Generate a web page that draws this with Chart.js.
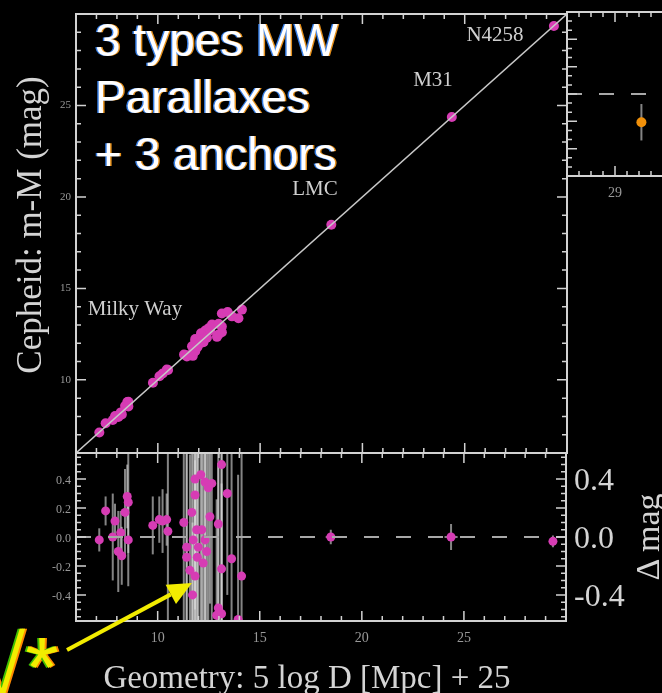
<!DOCTYPE html>
<html>
<head>
<meta charset="utf-8">
<script src="https://cdn.jsdelivr.net/npm/chart.js@4.4.1/dist/chart.umd.min.js"></script>
<style>
  html, body { margin: 0; padding: 0; background: #000; }
  body { width: 662px; height: 693px; overflow: hidden; position: relative; }
  canvas { position: absolute; }
  #top { left: 0; top: 0; }
  #inset { left: 560px; top: 0; }
  #bottom { left: 0; top: 440px; }
  .txt { position: absolute; white-space: nowrap; }
  #note { left: 95px; top: 12px; font: 46px/57px "Liberation Sans", Arial, sans-serif; color: #fff;
          text-shadow: -1.5px 0 rgba(60,140,255,0.9), 1.5px 0 rgba(255,160,30,0.9); }
  #vstar { left: -22px; top: 624px; font: 86px/86px "Liberation Sans", Arial, sans-serif; color: #f2ec00;
           text-shadow: -2px 0 #3fbf00, 2px 0 #ff8a00; }
  .serif { font-family: "Liberation Serif", "Times New Roman", serif; color: #d4d4d4; text-align: center; }
  #ytitle { left: -170px; top: 205px; width: 400px; font-size: 35px; line-height: 40px; transform: rotate(-90deg); }
  #xtitle { left: 57px; top: 657px; width: 500px; font-size: 33px; line-height: 40px; }
  #rtitle { left: 588px; top: 517px; width: 120px; font-size: 34px; line-height: 40px; transform: rotate(-90deg); }
</style>
</head>
<body>
<canvas id="top" width="580" height="460"></canvas>
<canvas id="inset" width="140" height="205"></canvas>
<canvas id="bottom" width="662" height="253"></canvas>
<div id="note" class="txt">3 types MW<br>Parallaxes<br>+ 3 anchors</div>
<div id="vstar" class="txt">√*</div>
<div id="ytitle" class="txt serif">Cepheid: m-M (mag)</div>
<div id="xtitle" class="txt serif">Geometry: 5 log D [Mpc] + 25</div>
<div id="rtitle" class="txt serif">Δ mag</div>
<script>
// Milky Way Cepheids: geometric distance modulus and residual (Cepheid - geometry)
const mwGeo = [7.14, 7.45, 7.80, 7.91, 8.07, 8.19, 8.24, 8.40, 8.51, 8.56, 8.56,
  9.76, 10.08, 10.24, 10.44, 10.50,
  11.28, 11.42, 11.42, 11.58, 11.67, 11.71, 11.74, 11.83, 11.83, 11.83, 11.91, 11.94,
  11.99, 12.11, 12.16, 12.23, 12.32, 12.32, 12.40, 12.48, 12.56, 12.65, 12.89, 12.97,
  12.97, 13.13, 13.13, 13.13, 13.41, 13.62, 13.94, 14.11];
const mwDelta = [-0.02, 0.18, 0.00, 0.11, -0.10, 0.03, -0.13, 0.17, 0.28, 0.24, -0.02,
  0.08, 0.12, 0.11, 0.12, 0.04,
  0.10, -0.07, -0.14, -0.23, 0.17, -0.40, -0.02, 0.40, 0.29, -0.27, 0.05, -0.14,
  -0.07, 0.43, 0.05, -0.18, 0.38, -0.02, -0.10, 0.34, 0.14, 0.37, -0.54, 0.09,
  -0.49, 0.50, -0.22, -0.53, 0.30, -0.15, -0.57, -0.27];
const mwErr = [0.08, 0.10, 0.30, 0.12, 0.28, 0.15, 0.20, 0.30, 0.22, 0.35, 0.32,
  0.20, 0.16, 0.22, 0.18, 0.90,
  0.90, 0.70, 1.00, 0.80, 1.20, 0.50, 1.10, 0.90, 1.30, 0.80, 1.00, 1.20,
  0.90, 1.10, 0.80, 1.00, 1.20, 0.70, 0.90, 1.00, 0.60, 1.10, 0.80, 0.90,
  1.00, 1.20, 0.80, 0.90, 0.70, 0.90, 1.00, 0.90];

// anchors outside the Milky Way
const anchorNames = ["LMC", "M31", "N4258"];
const anchorGeo = [18.48, 24.37, 29.36];
const anchorCeph = [18.48, 24.37, 29.34];
const anchorDelta = [0.00, 0.00, -0.03];
const anchorErrY = [0.05, 0.09, 0.04];
const anchorErrX = [0.25, 0.32, 0.10];

// right-hand inset (cut off by the frame)
const insetX = [29.22];
const insetDelta = [-0.155];
const insetErr = [0.10];

// axes
const diagX = [6, 30];
const topYTicks = [10, 15, 20, 25];
const bottomXTicks = [10, 15, 20, 25];
const bottomYTicks = [-0.4, -0.2, 0.0, 0.2, 0.4];
const rightYTicks = [-0.4, 0.0, 0.4];
const insetXTicks = [29];

const MAGENTA = "#d63cb4";
const SERIF = "'Liberation Serif', 'Times New Roman', serif";
const FRAME = "#d2d2d2";

// minor / major step of the inward tick marks, per canvas
const tickSteps = {
  top: { x: [1, 5], y: [1, 5] },
  bottom: { x: [1, 5], y: [0.05, 0.2] },
  inset: { x: [0.1, 0.5], y: [0.05, 0.15] }
};

// box with inward tick marks on all four sides
const framePlugin = {
  id: "frame",
  afterDatasetsDraw(chart) {
    const { ctx, chartArea: a, scales } = chart;
    const steps = tickSteps[chart.canvas.id];
    ctx.save();
    ctx.strokeStyle = FRAME;
    ctx.lineWidth = 1.5;
    const marks = (scale, minor, major, horiz) => {
      const n0 = Math.ceil(scale.min / minor - 1e-6);
      const n1 = Math.floor(scale.max / minor + 1e-6);
      for (let n = n0; n <= n1; n++) {
        const v = n * minor;
        const r = v / major;
        const len = Math.abs(r - Math.round(r)) < 1e-6 ? 10 : 5;
        const p = scale.getPixelForValue(v);
        ctx.beginPath();
        if (horiz) {
          ctx.moveTo(p, a.bottom); ctx.lineTo(p, a.bottom - len);
          ctx.moveTo(p, a.top); ctx.lineTo(p, a.top + len);
        } else {
          ctx.moveTo(a.left, p); ctx.lineTo(a.left + len, p);
          ctx.moveTo(a.right, p); ctx.lineTo(a.right - len, p);
        }
        ctx.stroke();
      }
    };
    marks(scales.x, steps.x[0], steps.x[1], true);
    marks(scales.y, steps.y[0], steps.y[1], false);
    ctx.lineWidth = 2;
    ctx.strokeRect(a.left, a.top, a.width, a.height);
    ctx.restore();
  }
};

// vertical / horizontal error bars from dataset.errY / dataset.errX
const errorPlugin = {
  id: "errorBars",
  beforeDatasetsDraw(chart) {
    const { ctx, chartArea: a, scales: { x, y } } = chart;
    ctx.save();
    ctx.beginPath();
    ctx.rect(a.left, a.top, a.width, a.height);
    ctx.clip();
    ctx.strokeStyle = "rgba(220,220,220,0.6)";
    ctx.lineWidth = 2;
    chart.data.datasets.forEach((ds) => {
      if (!ds.errY) return;
      ds.data.forEach((p, i) => {
        const px = x.getPixelForValue(p.x);
        const py = y.getPixelForValue(p.y);
        const ey = ds.errY[i] || 0;
        const ex = ds.errX ? ds.errX[i] || 0 : 0;
        ctx.beginPath();
        if (ey) { ctx.moveTo(px, y.getPixelForValue(p.y - ey)); ctx.lineTo(px, y.getPixelForValue(p.y + ey)); }
        if (ex) { ctx.moveTo(x.getPixelForValue(p.x - ex), py); ctx.lineTo(x.getPixelForValue(p.x + ex), py); }
        ctx.stroke();
      });
    });
    ctx.restore();
  }
};

// galaxy names placed in data coordinates
const nameSpots = [
  { text: anchorNames[2], x: 26.48, y: 28.85 },
  { text: anchorNames[1], x: 23.45, y: 26.39 },
  { text: anchorNames[0], x: 17.68, y: 20.38 },
  { text: "Milky Way", x: 8.88, y: 13.82 }
];
const namePlugin = {
  id: "names",
  afterDatasetsDraw(chart) {
    const { ctx, scales: { x, y } } = chart;
    ctx.save();
    ctx.font = "21px " + SERIF;
    ctx.fillStyle = "#cfcfcf";
    ctx.textAlign = "center";
    ctx.textBaseline = "middle";
    nameSpots.forEach((it) => ctx.fillText(it.text, x.getPixelForValue(it.x), y.getPixelForValue(it.y)));
    ctx.restore();
  }
};

// yellow arrow pointing at the MW cluster (data coords of the residual panel)
const arrowFrom = [5.56, -0.78];
const arrowTo = [11.68, -0.318];
const arrowPlugin = {
  id: "arrow",
  afterDraw(chart) {
    const { ctx, scales: { x, y } } = chart;
    const x0 = x.getPixelForValue(arrowFrom[0]), y0 = y.getPixelForValue(arrowFrom[1]);
    const x1 = x.getPixelForValue(arrowTo[0]), y1 = y.getPixelForValue(arrowTo[1]);
    const ang = Math.atan2(y1 - y0, x1 - x0);
    const c = Math.cos(ang), s = Math.sin(ang);
    const bx = x1 - 24 * c, by = y1 - 24 * s;
    ctx.save();
    ctx.strokeStyle = ctx.fillStyle = "#f2ec00";
    ctx.lineWidth = 4;
    ctx.beginPath(); ctx.moveTo(x0, y0); ctx.lineTo(bx, by); ctx.stroke();
    ctx.beginPath();
    ctx.moveTo(x1, y1);
    ctx.lineTo(bx + 11 * s, by - 11 * c);
    ctx.lineTo(bx - 11 * s, by + 11 * c);
    ctx.closePath();
    ctx.fill();
    ctx.restore();
  }
};

const pts = (xs, ys) => xs.map((v, i) => ({ x: v, y: ys[i] }));
const tickList = (arr) => (s) => { s.ticks = arr.map((v) => ({ value: v })); };
const dot = (r, color) => ({ pointRadius: r, pointHoverRadius: r, backgroundColor: color, borderColor: color, pointBorderWidth: 0 });
// fixed axis sizes, and no extra room for half-labels at the ends
const fixW = (w) => (s) => { s.width = w; s.paddingTop = 0; s.paddingBottom = 0; };
const fixH = (h) => (s) => { s.height = h; s.paddingLeft = 0; s.paddingRight = 0; };

// ---- top panel: Cepheid m-M vs geometry ----
new Chart(document.getElementById("top"), {
  type: "scatter",
  data: {
    datasets: [
      { data: pts(diagX, diagX), showLine: true, borderColor: "#c8c8c8", borderWidth: 1.5, pointRadius: 0 },
      { data: pts(mwGeo, mwGeo.map((g, i) => g + mwDelta[i])), ...dot(5, MAGENTA) },
      { data: pts(anchorGeo, anchorCeph), ...dot(5, MAGENTA) }
    ]
  },
  options: {
    responsive: false,
    animation: false,
    layout: { padding: { top: 14, right: 13, bottom: 7, left: 0 } },
    plugins: { legend: { display: false }, tooltip: { enabled: false } },
    scales: {
      x: { type: "linear", display: false, min: 6, max: 30 },
      y: {
        type: "linear", min: 6, max: 30,
        grid: { display: false, drawTicks: false },
        border: { display: false },
        afterBuildTicks: tickList(topYTicks),
        afterFit: fixW(76),
        ticks: { color: "#999", font: { family: SERIF, size: 11 }, padding: 5 }
      }
    }
  },
  plugins: [errorPlugin, framePlugin, namePlugin]
});

// ---- inset panel on the right ----
new Chart(document.getElementById("inset"), {
  type: "scatter",
  data: {
    datasets: [
      { data: pts([28.6, 29.6], [0, 0]), showLine: true, borderColor: "#a8a8a8", borderWidth: 2, borderDash: [15, 17], pointRadius: 0 },
      { data: pts(insetX, insetDelta), errY: insetErr, ...dot(5, "#f0900a") }
    ]
  },
  options: {
    responsive: false,
    animation: false,
    layout: { padding: { top: 12, right: 13, left: 7, bottom: 0 } },
    plugins: { legend: { display: false }, tooltip: { enabled: false } },
    scales: {
      x: {
        type: "linear", min: 28.6, max: 29.6,
        grid: { display: false, drawTicks: false },
        border: { display: false },
        afterBuildTicks: tickList(insetXTicks),
        afterFit: fixH(29),
        ticks: { color: "#999", font: { family: SERIF, size: 14 }, padding: 9, maxRotation: 0 }
      },
      y: { type: "linear", display: false, min: -0.45, max: 0.45 }
    }
  },
  plugins: [errorPlugin, framePlugin]
});

// ---- bottom panel: residuals ----
new Chart(document.getElementById("bottom"), {
  type: "scatter",
  data: {
    datasets: [
      { data: pts(diagX, [0, 0]), showLine: true, borderColor: "#a8a8a8", borderWidth: 2, borderDash: [15, 17], pointRadius: 0 },
      { data: pts(mwGeo, mwDelta), errY: mwErr, ...dot(4.5, MAGENTA) },
      { data: pts(anchorGeo, anchorDelta), errY: anchorErrY, errX: anchorErrX, ...dot(4.5, MAGENTA) }
    ]
  },
  options: {
    responsive: false,
    animation: false,
    layout: { padding: { top: 13, right: 0, left: 0, bottom: 0 } },
    plugins: { legend: { display: false }, tooltip: { enabled: false } },
    scales: {
      x: {
        type: "linear", min: 6, max: 30,
        grid: { display: false, drawTicks: false },
        border: { display: false },
        afterBuildTicks: tickList(bottomXTicks),
        afterFit: fixH(72),
        ticks: { color: "#999", font: { family: SERIF, size: 14 }, padding: 9, maxRotation: 0 }
      },
      y: {
        type: "linear", position: "left", min: -0.58, max: 0.58,
        grid: { display: false, drawTicks: false },
        border: { display: false },
        afterBuildTicks: tickList(bottomYTicks),
        afterFit: fixW(76),
        ticks: { color: "#999", font: { family: SERIF, size: 12 }, padding: 5, labelOffset: 2, callback: (v) => v.toFixed(1) }
      },
      y2: {
        type: "linear", position: "right", min: -0.58, max: 0.58,
        grid: { display: false, drawTicks: false },
        border: { display: false },
        afterBuildTicks: tickList(rightYTicks),
        afterFit: fixW(96),
        ticks: { color: "#d4d4d4", font: { family: SERIF, size: 32 }, padding: 8, labelOffset: 3, callback: (v) => v.toFixed(1) }
      }
    }
  },
  plugins: [errorPlugin, framePlugin, arrowPlugin]
});
</script>
</body>
</html>
